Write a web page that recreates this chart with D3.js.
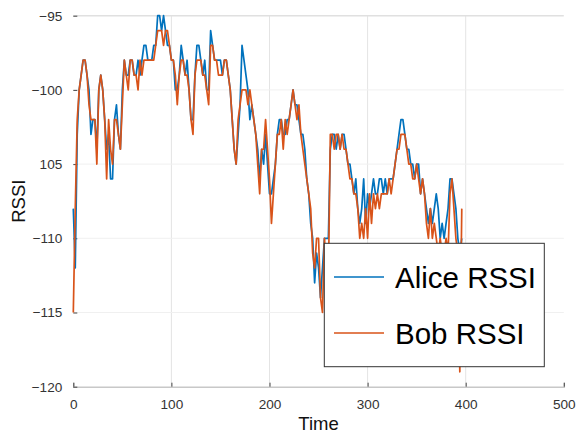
<!DOCTYPE html>
<html>
<head>
<meta charset="utf-8">
<script src="https://cdn.jsdelivr.net/npm/d3@7"></script>
<style>
  body { margin: 0; background: #fff; }
  svg { display: block; font-family: "Liberation Sans", Arial, sans-serif; }
</style>
</head>
<body>
<svg id="chart"></svg>
<script>
// samples every 2 time units, starting at t = 0
const timeStep = 2

const alice = [
  -108,-112,-103,-100,-99,-98,-98,-99,-100,-103,
  -102,-102,-104,-100,-99,-100,-102,-104,-103,-106,
  -106,-102,-101,-103,-104,-100,-98,-99,-99,-98,
  -98,-99,-99,-98,-99,-98,-97,-97,-98,-98,
  -98,-97,-97,-95,-95,-96,-95,-96,-97,-97,
  -98,-98,-100,-100,-99,-97,-98,-99,-98,-100,
  -102,-102,-99,-97,-97,-98,-99,-98,-100,-100,
  -96,-97,-98,-98,-98,-98,-99,-98,-98,-99,
  -100,-102,-104,-105,-103,-101,-97,-98,-99,-100,
  -102,-101,-102,-103,-104,-106,-104,-105,-103,-105,
  -107,-107,-106,-105,-103,-102,-102,-103,-103,-102,
  -102,-101,-100,-101,-101,-102,-103,-103,-104,-106,
  -107,-109,-110,-113,-111,-112,-114,-112,-110,-110,
  -110,-104,-103,-103,-104,-103,-104,-103,-103,-104,
  -105,-105,-106,-107,-106,-108,-109,-108,-106,-109,
  -107,-108,-107,-106,-107,-107,-106,-106,-107,-106,
  -107,-106,-106,-106,-105,-104,-103,-102,-102,-103,
  -104,-104,-105,-105,-106,-105,-105,-107,-106,-107,
  -108,-109,-108,-109,-108,-107,-108,-110,-109,-110,
  -109,-108,-106,-106,-107,-108,-110,-111,-110
]

const bob = [
  -115,-108,-102,-100,-99,-98,-98,-99,-101,-102,
  -102,-102,-105,-100,-99,-100,-102,-106,-102,-104,
  -105,-102,-102,-103,-104,-101,-98,-99,-100,-98,
  -98,-99,-99,-100,-98,-99,-98,-98,-98,-98,
  -98,-98,-97,-96,-96,-96,-97,-96,-96,-97,
  -98,-98,-99,-101,-99,-98,-98,-99,-99,-100,
  -102,-103,-99,-98,-98,-98,-99,-99,-100,-101,
  -97,-97,-98,-98,-99,-99,-99,-98,-98,-99,
  -100,-102,-104,-105,-102,-101,-100,-100,-100,-101,
  -100,-101,-102,-103,-105,-107,-104,-104,-102,-104,
  -106,-109,-107,-105,-103,-103,-102,-104,-102,-103,
  -102,-101,-100,-101,-102,-101,-103,-104,-105,-106,
  -107,-108,-111,-112,-110,-110,-114,-115,-110,-112,
  -113,-103,-103,-104,-103,-103,-104,-103,-104,-104,
  -105,-106,-106,-107,-107,-108,-110,-109,-110,-108,
  -110,-107,-109,-107,-108,-107,-108,-107,-107,-107,
  -107,-106,-107,-106,-105,-104,-104,-103,-103,-103,
  -104,-105,-105,-106,-106,-105,-106,-107,-106,-107,
  -109,-110,-108,-110,-109,-110,-111,-110,-111,-111,
  -110,-111,-107,-106,-108,-110,-111,-119,-108
]

const xTicks = [0, 100, 200, 300, 400, 500]
const yTicks = [-95, -100, -105, -110, -115, -120]
const yTickLabels = ['\u221295', '\u2212100', '105', '\u2212110', '\u2212115', '\u2212120']
const seriesNames = ['Alice RSSI', 'Bob RSSI']

const width = 583, height = 437
const colors = ['#0072BD', '#D95319']

const svg = d3.select('#chart').attr('width', width).attr('height', height)

const x = d3.scaleLinear().domain([0, 500]).range([73.3, 563.8])
const y = d3.scaleLinear().domain([-120, -95]).range([386.7, 15.7])

// grid
svg.append('g')
  .selectAll('line')
  .data(xTicks.slice(1, -1))
  .join('line')
  .attr('x1', d => x(d)).attr('x2', d => x(d))
  .attr('y1', y(-95)).attr('y2', y(-120))
  .attr('stroke', '#e4e4e4').attr('stroke-width', 1)

svg.append('g')
  .selectAll('line')
  .data(yTicks.slice(1, -1))
  .join('line')
  .attr('x1', x(0)).attr('x2', x(500))
  .attr('y1', d => y(d)).attr('y2', d => y(d))
  .attr('stroke', '#f0f0f0').attr('stroke-width', 1)

svg.append('line')
  .attr('x1', x(0)).attr('x2', x(500))
  .attr('y1', y(-95)).attr('y2', y(-95))
  .attr('stroke', '#e0e0e0').attr('stroke-width', 1.5)

// bottom axis
const xAxis = svg.append('g')
  .attr('transform', `translate(0,${y(-120)})`)
  .call(d3.axisBottom(x).tickValues(xTicks).tickSize(-4).tickPadding(13))
xAxis.select('.domain').attr('stroke', '#c8c8c8').attr('stroke-width', 1.5)
xAxis.selectAll('.tick line').attr('stroke', '#444')
xAxis.selectAll('.tick text')
  .attr('font-size', 13.6).attr('fill', '#333')
  .attr('font-family', '"Liberation Sans", Arial, sans-serif')

// left axis
const yAxis = svg.append('g')
  .attr('transform', `translate(${x(0)},0)`)
  .call(d3.axisLeft(y).tickValues(yTicks)
    .tickFormat((d, i) => yTickLabels[i]).tickSize(-4).tickPadding(11))
yAxis.select('.domain').remove()
yAxis.selectAll('.tick line').attr('stroke', '#444')
yAxis.selectAll('.tick text')
  .attr('font-size', 13.6).attr('fill', '#333')
  .attr('font-family', '"Liberation Sans", Arial, sans-serif')

// lines
const line = d3.line()
  .x((d, i) => x(i * timeStep))
  .y(d => y(d))

;[alice, bob].forEach((s, k) => {
  svg.append('path')
    .datum(s)
    .attr('d', line)
    .attr('fill', 'none')
    .attr('stroke', colors[k])
    .attr('stroke-width', 1.7)
    .attr('stroke-linejoin', 'round')
})

// axis titles
svg.append('text')
  .attr('x', x(250)).attr('y', 430)
  .attr('text-anchor', 'middle')
  .attr('font-size', 18.5).attr('fill', '#111')
  .text('Time')

svg.append('text')
  .attr('transform', `translate(25,${(y(-95) + y(-120)) / 2}) rotate(-90)`)
  .attr('text-anchor', 'middle')
  .attr('font-size', 18.5).attr('fill', '#111')
  .text('RSSI')

// legend
const legend = svg.append('g')
legend.append('rect')
  .attr('x', 324.3).attr('y', 243.3)
  .attr('width', 220).attr('height', 123.4)
  .attr('fill', '#fff').attr('stroke', '#333').attr('stroke-width', 1)

seriesNames.forEach((name, k) => {
  const ly = 277 + k * 56
  legend.append('line')
    .attr('x1', 334).attr('x2', 384)
    .attr('y1', ly).attr('y2', ly)
    .attr('stroke', colors[k]).attr('stroke-width', 1.7)
  legend.append('text')
    .attr('x', 395).attr('y', ly + 10.5)
    .attr('font-size', 29.5).attr('fill', '#000')
    .text(name)
})
</script>
</body>
</html>
